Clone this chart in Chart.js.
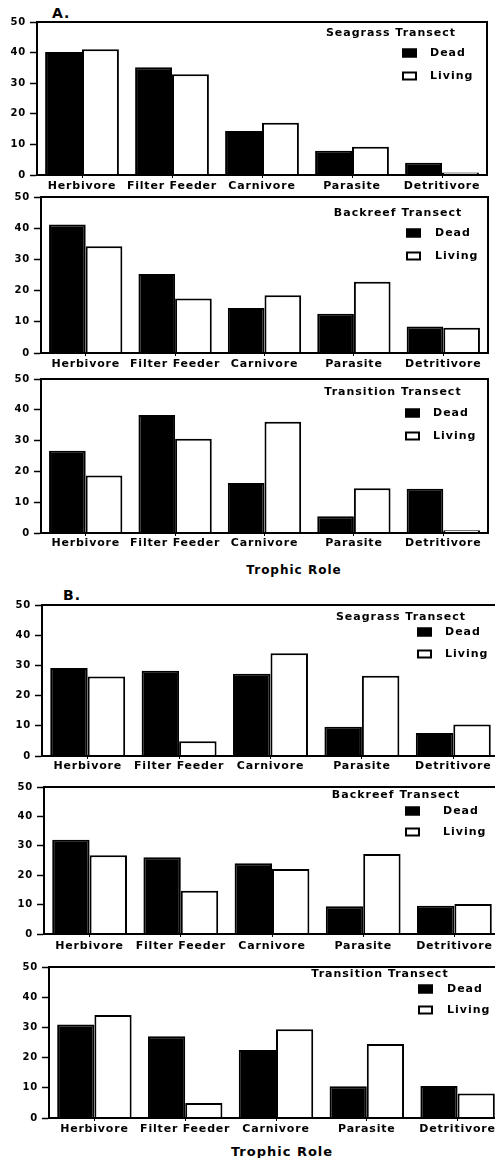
<!DOCTYPE html>
<html>
<head>
<meta charset="utf-8">
<script src="https://cdn.jsdelivr.net/npm/chart.js@4.4.1/dist/chart.umd.min.js"></script>
<style>
body{margin:0;background:#fff;width:495px;height:1158px;overflow:hidden;position:relative;font-family:"DejaVu Sans",sans-serif;}
canvas{position:absolute;left:0;}
.lbl{position:absolute;font-weight:bold;color:#000;white-space:nowrap;letter-spacing:1px;}
</style>
</head>
<body>
<div class="lbl" style="left:52px;top:5px;font-size:14px;line-height:16px;">A.</div>
<div class="lbl" style="left:63px;top:587px;font-size:14px;line-height:16px;">B.</div>
<div class="lbl" style="left:294px;top:563px;font-size:12px;line-height:14px;transform:translateX(-50%);">Trophic Role</div>
<div class="lbl" style="left:282px;top:1144px;font-size:13px;line-height:16px;transform:translateX(-50%);">Trophic Role</div>
<script>
// categories and axis ticks
var roles = ['Herbivore', 'Filter Feeder', 'Carnivore', 'Parasite', 'Detritivore'];
var yTicks = [0, 10, 20, 30, 40, 50];

// A. percentages by transect
var seagrassDeadA = [40.2, 35.2, 14.4, 7.9, 4.0];
var seagrassLivingA = [41.1, 32.9, 17.1, 9.2, 0.8];
var backreefDeadA = [41.2, 25.3, 14.4, 12.6, 8.5];
var backreefLivingA = [34.2, 17.5, 18.5, 22.8, 8.1];
var transitionDeadA = [26.7, 38.3, 16.2, 5.4, 14.4];
var transitionLivingA = [18.7, 30.6, 36.1, 14.5, 0.9];

// B. percentages by transect
var seagrassDeadB = [29.1, 28.2, 27.2, 9.7, 7.6];
var seagrassLivingB = [26.3, 4.9, 34.0, 26.6, 10.4];
var backreefDeadB = [32.1, 26.1, 24.1, 9.4, 9.6];
var backreefLivingB = [26.8, 14.7, 22.1, 27.2, 10.2];
var transitionDeadB = [31.0, 27.1, 22.5, 10.5, 10.6];
var transitionLivingB = [34.1, 5.0, 29.4, 24.5, 8.1];

var FONT = '"DejaVu Sans", sans-serif';
var CW = 510;      // canvas width (B panels run past the page edge)
var PAD_TOP = 12;
var X_H = 24;

// box on top and right of the plot
var framePlugin = {
    id: 'frame',
    beforeDraw: function (chart) {
        chart.ctx.letterSpacing = '0.8px';
    },
    afterDatasetsDraw: function (chart) {
        var ctx = chart.ctx, a = chart.chartArea;
        ctx.save();
        ctx.strokeStyle = '#000';
        ctx.lineWidth = 2;
        ctx.beginPath();
        ctx.moveTo(a.left - 1, a.top);
        ctx.lineTo(a.right, a.top);
        ctx.lineTo(a.right, a.bottom + 1);
        ctx.stroke();
        ctx.restore();
    }
};

// transect name + Dead / Living key inside the plot
var keyPlugin = {
    id: 'panelKey',
    afterDraw: function (chart, args, o) {
        var ctx = chart.ctx, off = o.canvasTop;
        ctx.save();
        ctx.letterSpacing = '1px';
        ctx.font = 'bold 11px ' + FONT;
        ctx.fillStyle = '#000';
        ctx.textAlign = 'center';
        ctx.textBaseline = 'middle';
        ctx.fillText(o.title, o.titleX, o.titleY - off);
        ctx.textAlign = 'left';
        chart.data.datasets.forEach(function (ds, i) {
            var y = o.rowY[i] - off;
            ctx.fillStyle = ds.backgroundColor;
            ctx.fillRect(o.boxX, y - 4.5, 15, 9);
            ctx.strokeStyle = ds.borderColor;
            ctx.lineWidth = 2;
            ctx.strokeRect(o.boxX + 1, y - 3.5, 13, 7);
            ctx.fillStyle = '#000';
            ctx.fillText(ds.label, o.textX, y);
        });
        ctx.restore();
    }
};

var panels = [
    {dead: seagrassDeadA, living: seagrassLivingA, title: 'Seagrass Transect',
     top: 22, bottom: 175, left: 37, right: 487, labelPad: 2,
     titleX: 391, titleY: 33, boxX: 402, textX: 430, rowY: [53, 76]},
    {dead: backreefDeadA, living: backreefLivingA, title: 'Backreef Transect',
     top: 197, bottom: 353, left: 41, right: 488, labelPad: 2,
     titleX: 398, titleY: 213, boxX: 406, textX: 435, rowY: [233, 256]},
    {dead: transitionDeadA, living: transitionLivingA, title: 'Transition Transect',
     top: 379, bottom: 533, left: 41, right: 488, labelPad: 1,
     titleX: 393, titleY: 392, boxX: 405, textX: 433, rowY: [413, 436]},
    {dead: seagrassDeadB, living: seagrassLivingB, title: 'Seagrass Transect',
     top: 605, bottom: 756, left: 42, right: 499, labelPad: 1,
     titleX: 401, titleY: 617, boxX: 417, textX: 445, rowY: [632, 654]},
    {dead: backreefDeadB, living: backreefLivingB, title: 'Backreef Transect',
     top: 787, bottom: 934, left: 44, right: 500, labelPad: 3,
     titleX: 396, titleY: 795, boxX: 405, textX: 443, rowY: [811, 832]},
    {dead: transitionDeadB, living: transitionLivingB, title: 'Transition Transect',
     top: 967, bottom: 1118, left: 49, right: 503, labelPad: 2,
     titleX: 380, titleY: 974, boxX: 418, textX: 447, rowY: [989, 1010]}
];

panels.forEach(function (p) {
    var cv = document.createElement('canvas');
    var h = PAD_TOP + (p.bottom - p.top) + X_H;
    var canvasTop = p.top - PAD_TOP;
    cv.width = CW;
    cv.height = h;
    cv.style.top = canvasTop + 'px';
    cv.style.width = CW + 'px';
    cv.style.height = h + 'px';
    document.body.appendChild(cv);

    new Chart(cv, {
        type: 'bar',
        data: {
            labels: roles,
            datasets: [
                {label: 'Dead', data: p.dead, backgroundColor: '#000', borderColor: '#000', borderWidth: 2},
                {label: 'Living', data: p.living, backgroundColor: '#fff', borderColor: '#000', borderWidth: 2}
            ]
        },
        options: {
            responsive: false,
            animation: false,
            devicePixelRatio: 1,
            layout: {padding: {top: PAD_TOP, right: CW - p.right, left: 0, bottom: 0}},
            datasets: {bar: {categoryPercentage: 0.82, barPercentage: 1}},
            plugins: {
                legend: {display: false},
                tooltip: {enabled: false},
                panelKey: {
                    canvasTop: canvasTop, title: p.title, titleX: p.titleX, titleY: p.titleY,
                    boxX: p.boxX, textX: p.textX, rowY: p.rowY
                }
            },
            scales: {
                x: {
                    grid: {offset: false, drawOnChartArea: false, tickLength: 3, tickColor: '#000', tickWidth: 1},
                    border: {color: '#000', width: 2, z: 1},
                    ticks: {color: '#000', font: {family: FONT, size: 11, weight: 'bold'},
                            padding: p.labelPad, maxRotation: 0, minRotation: 0, autoSkip: false},
                    afterFit: function (s) { s.height = X_H; }
                },
                y: {
                    min: yTicks[0],
                    max: yTicks[yTicks.length - 1],
                    grid: {drawOnChartArea: false, tickLength: 7, tickColor: '#000', tickWidth: 1.5},
                    border: {color: '#000', width: 2, z: 1},
                    ticks: {stepSize: yTicks[1] - yTicks[0], color: '#000', padding: 4,
                            font: {family: FONT, size: 10, weight: 'bold'}},
                    afterFit: function (s) { s.width = p.left; }
                }
            }
        },
        plugins: [framePlugin, keyPlugin]
    });
});
</script>
</body>
</html>
